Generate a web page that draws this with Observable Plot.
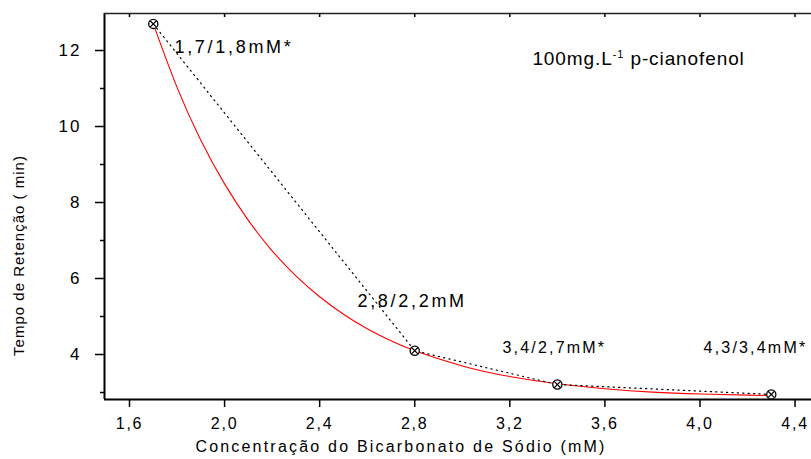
<!DOCTYPE html>
<html><head><meta charset="utf-8">
<script src="https://cdn.jsdelivr.net/npm/d3@7"></script>
<script src="https://cdn.jsdelivr.net/npm/@observablehq/plot@0.6"></script>
<style>
body{margin:0;background:#fff}
svg{font-family:"Liberation Sans",Arial,sans-serif}
g[aria-label="x-axis tick label"] text{letter-spacing:1.8px}
g[aria-label="y-axis tick label"] text{letter-spacing:2px}
</style>
</head><body><div id="chart"></div>
<script>
// Measured points (bicarbonate concentration in mM vs retention time in min)
const concentration = [1.7, 2.8, 3.4, 4.3];
const retention = [12.7, 4.1, 3.21, 2.95];
const pointLabels = ["1,7/1,8mM*", "2,8/2,2mM", "3,4/2,7mM*", "4,3/3,4mM*"];

// Fitted (red) curve
const fitX = [1.7, 1.8, 1.9, 2.0, 2.1, 2.2, 2.3, 2.4, 2.5, 2.6, 2.7, 2.8, 3.0, 3.2, 3.4, 3.6, 3.8, 4.0, 4.2, 4.3];
const fitY = [12.7, 11.03, 9.64, 8.49, 7.53, 6.73, 6.07, 5.52, 5.06, 4.68, 4.36, 4.10, 3.70, 3.42, 3.23, 3.10, 3.01, 2.96, 2.93, 2.92];

// Ticks
const xTicks = [1.6, 2.0, 2.4, 2.8, 3.2, 3.6, 4.0, 4.4];
const yTicks = [4, 6, 8, 10, 12];
const yMinorTicks = [3, 5, 7, 9, 11];

// Texts
const noteText = "100mg.L-1 p-cianofenol";
const xTitle = "Concentração do Bicarbonato de Sódio (mM)";
const yTitle = "Tempo de Retenção ( min)";

// Label anchors in data coordinates
const labelX = [1.789, 2.559, 3.169, 4.015];
const labelY = [12.074, 5.389, 4.187, 4.187];
const labelSize = [18, 18, 16, 16];

const xDomain = [1.4948, 4.4692];
const yDomain = [2.816, 12.974];

const points = concentration.map((x, i) => ({x, y: retention[i]}));
const fit = fitX.map((x, i) => ({x, y: fitY[i]}));
const labels = pointLabels.map((t, i) => ({t, x: labelX[i], y: labelY[i], s: labelSize[i]}));
const fmtX = d => d.toFixed(1).replace(".", ",");

const chart = Plot.plot({
  width: 811,
  height: 459,
  marginLeft: 104,
  marginRight: 0,
  marginTop: 13,
  marginBottom: 60,
  style: {fontFamily: '"Liberation Sans", Arial, sans-serif', color: "#000", background: "#fff"},
  x: {domain: xDomain},
  y: {domain: yDomain},
  marks: [
    Plot.axisY({ticks: yTicks, tickSize: 9, tickPadding: 14, fontSize: 17, label: null, stroke: "#000", strokeWidth: 1.5}),
    Plot.axisY({ticks: yMinorTicks, tickSize: 4, tickFormat: () => "", label: null, strokeWidth: 1.5}),
    Plot.axisX({ticks: xTicks, tickSize: 8, tickPadding: 10, fontSize: 16, tickFormat: fmtX, label: null, strokeWidth: 1.5}),
    Plot.axisX({anchor: "top", ticks: xTicks, tickSize: -3, tickFormat: () => "", label: null, strokeWidth: 1.5}),
    Plot.ruleX([xDomain[0]], {stroke: "#000", strokeWidth: 2}),
    Plot.ruleY([yDomain[0]], {stroke: "#000", strokeWidth: 2}),
    Plot.ruleY([yDomain[1]], {stroke: "#222", strokeWidth: 1.5}),
    Plot.line(fit, {x: "x", y: "y", stroke: "#ff0000", strokeWidth: 1.1, curve: "natural"}),
    Plot.line(points, {x: "x", y: "y", stroke: "#000", strokeWidth: 1.2, strokeDasharray: "1.2,4.2"}),
    Plot.dot(points, {x: "x", y: "y", r: 4.6, stroke: "#000", strokeWidth: 1.3, fill: "#fff"}),
    Plot.dot(points, {x: "x", y: "y", r: 3, symbol: "times", stroke: "#000", strokeWidth: 1.2}),
    Plot.text(labels, {x: "x", y: "y", text: "t", fontSize: "s", textAnchor: "start", lineAnchor: "middle", fill: "#000"}),
    Plot.text([noteText], {x: 3.295, y: 11.784, textAnchor: "start", lineAnchor: "middle", fontSize: 19, fill: "#000"}),
    Plot.text([xTitle], {frameAnchor: "bottom", textAnchor: "middle", lineAnchor: "middle", dx: -57, dy: 47, fontSize: 16, fill: "#000"}),
    Plot.text([yTitle], {frameAnchor: "left", textAnchor: "middle", lineAnchor: "middle", rotate: -90, dx: -85, dy: 49, fontSize: 15, fill: "#000"})
  ]
});

// text styling after render
d3.select(chart).selectAll("text").each(function () {
  const s = this.textContent;
  const t = d3.select(this);
  const li = pointLabels.indexOf(s);
  if (li >= 0) t.style("letter-spacing", li < 2 ? "2.7px" : "2.2px");
  else if (s === xTitle) t.style("letter-spacing", "2.2px");
  else if (s === yTitle) t.style("letter-spacing", "1px");
  else if (s === noteText) {
    t.text(null).style("letter-spacing", "0.9px");
    t.append("tspan").text("100mg.L");
    t.append("tspan").attr("dy", "-7").attr("font-size", 11).text("-1");
    t.append("tspan").attr("dy", "7").text(" p-cianofenol");
  }
});

document.getElementById("chart").appendChild(chart);
</script>
</body></html>
